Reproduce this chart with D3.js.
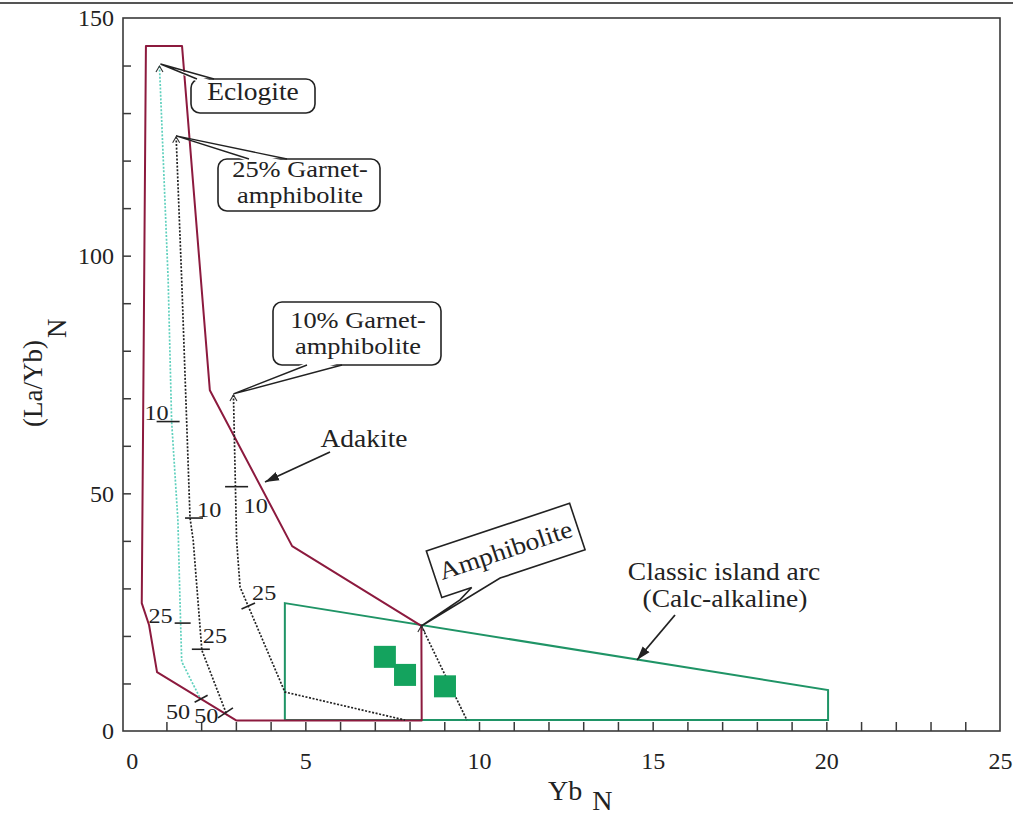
<!DOCTYPE html>
<html>
<head>
<meta charset="utf-8">
<script src="https://cdn.jsdelivr.net/npm/d3@7"></script>
<style>
  html, body { margin: 0; padding: 0; background: #fff; }
  svg { display: block; }
  text { font-family: "Liberation Serif", "Times New Roman", serif; fill: #222; }
</style>
</head>
<body>
<svg id="chart" width="1013" height="817"></svg>
<script>
// ---- Yb_N versus (La/Yb)_N discrimination diagram ----

// Adakite field outline
const adakiteYb   = [0.41, 1.45, 2.25, 4.62, 8.34, 8.35, 3.02, 0.73, 0.50, 0.29];
const adakiteLaYb = [144.1, 144.1, 71.7, 38.9, 22.1, 2.2, 2.2, 12.4, 22.3, 26.9];

// Classic island arc (calc-alkaline) field outline
const arcYb   = [4.41, 20.05, 20.05, 4.41];
const arcLaYb = [26.9, 8.6, 2.3, 2.3];

// Partial-melting trends, listed from the residue end downwards
const eclogiteYb   = [0.80, 1.05, 1.15, 1.33, 1.39, 1.44, 1.97];
const eclogiteLaYb = [139.9, 94.9, 65.1, 44.4, 27.6, 14.6, 6.9];

const garnet25Yb   = [1.28, 1.44, 1.68, 1.77, 2.02, 2.74];
const garnet25LaYb = [125.0, 94.9, 44.8, 40.2, 17.0, 3.4];

const garnet10Yb   = [2.93, 3.02, 3.12, 4.41, 7.87];
const garnet10LaYb = [70.7, 40.2, 30.3, 8.2, 2.3];

const amphiboliteYb   = [8.34, 9.65];
const amphiboliteLaYb = [22.1, 2.3];

// Melt-fraction marks (%) along each trend
const eclogiteMarks = [["10", 1.15, 65.1], ["25", 1.41, 22.7], ["50", 2.00, 6.8]];
const garnet25Marks = [["10", 1.68, 44.8], ["25", 2.02, 17.2], ["50", 2.70, 3.8]];
const garnet10Marks = [["10", 3.02, 51.4], ["25", 3.35, 26.3]];

// Samples
const samplesYb   = [7.29, 7.87, 9.02];
const samplesLaYb = [15.6, 11.8, 9.4];

// Axes
const xTickValues = d3.range(0, 26, 1);
const xTickLabels = [0, 5, 10, 15, 20, 25];
const yTickValues = d3.range(0, 151, 10);
const yTickLabels = [0, 50, 100, 150];

// ---------------------------------------------------------------
const zip = (a, b) => a.map((v, i) => [v, b[i]]);

const svg = d3.select("#chart");
const x = d3.scaleLinear().domain([-0.25, 25]).range([123, 1000]);
const y = d3.scaleLinear().domain([0, 150]).range([731, 18]);

const MAROON = "#8c1a3e";
const TEAL   = "#5fd0bd";
const GREEN  = "#1f9466";
const SQUARE = "#14a35e";
const INK    = "#222";

// page rule across the top
svg.append("line")
  .attr("x1", 0).attr("x2", 1013).attr("y1", 3).attr("y2", 3)
  .attr("stroke", "#555").attr("stroke-width", 2);

// arrowhead marker
const defs = svg.append("defs");
defs.append("marker")
  .attr("id", "head")
  .attr("markerUnits", "userSpaceOnUse")
  .attr("viewBox", "0 -5 14 10")
  .attr("refX", 14).attr("refY", 0)
  .attr("markerWidth", 14).attr("markerHeight", 10)
  .attr("orient", "auto")
  .append("path").attr("d", "M0,-4.5L14,0L0,4.5Z").attr("fill", INK);

// frame
svg.append("rect")
  .attr("x", x(-0.25)).attr("y", y(150))
  .attr("width", x(25) - x(-0.25)).attr("height", y(0) - y(150))
  .attr("fill", "none").attr("stroke", "#3a3a3a").attr("stroke-width", 1.6);

// x axis (ticks point inwards)
const gx = svg.append("g")
  .attr("transform", `translate(0,${y(0)})`)
  .call(d3.axisBottom(x).tickValues(xTickValues).tickSize(-9).tickPadding(21)
    .tickFormat(d => xTickLabels.includes(d) ? d : ""));
gx.select(".domain").remove();
gx.selectAll(".tick line").filter(d => d === 0 || d === 25).remove();
gx.selectAll(".tick line").attr("stroke", "#3a3a3a").attr("stroke-width", 1.5);
gx.selectAll(".tick text").attr("font-size", 24).attr("font-family", "Liberation Serif").attr("fill", "#222");

// y axis
const gy = svg.append("g")
  .attr("transform", `translate(${x(-0.25)},0)`)
  .call(d3.axisLeft(y).tickValues(yTickValues).tickSize(-8).tickPadding(9)
    .tickFormat(d => yTickLabels.includes(d) ? d : ""));
gy.select(".domain").remove();
gy.selectAll(".tick line").filter(d => d === 0 || d === 150).remove();
gy.selectAll(".tick line").attr("stroke", "#3a3a3a").attr("stroke-width", 1.5);
gy.selectAll(".tick text").attr("font-size", 24).attr("font-family", "Liberation Serif").attr("fill", "#222");

// axis titles
svg.append("text")
  .attr("x", 548).attr("y", 800).attr("font-size", 28)
  .text("Yb")
  .append("tspan").attr("dx", 10).attr("dy", 10).text("N");

svg.append("text")
  .attr("transform", "translate(42,427) rotate(-90)")
  .attr("font-size", 27)
  .text("(La/Yb)")
  .append("tspan").attr("dx", 2).attr("dy", 24).text("N");

const line = d3.line().x(d => x(d[0])).y(d => y(d[1]));

// fields
svg.append("path")
  .attr("d", line(zip(arcYb, arcLaYb)) + "Z")
  .attr("fill", "none").attr("stroke", GREEN).attr("stroke-width", 2);

svg.append("path")
  .attr("d", line(zip(adakiteYb, adakiteLaYb)) + "Z")
  .attr("fill", "none").attr("stroke", MAROON).attr("stroke-width", 2)
  .attr("stroke-linejoin", "round");

// melting trends
const trend = (xs, ys, colour) => svg.append("path")
  .attr("d", line(zip(xs, ys)))
  .attr("fill", "none").attr("stroke", colour).attr("stroke-width", 1.7)
  .attr("stroke-dasharray", "2,1.6");

trend(eclogiteYb, eclogiteLaYb, TEAL);
trend(garnet25Yb, garnet25LaYb, INK);
trend(garnet10Yb, garnet10LaYb, INK);
trend(amphiboliteYb, amphiboliteLaYb, INK);

// small open arrowheads at the top of each trend
[[eclogiteYb, eclogiteLaYb], [garnet25Yb, garnet25LaYb], [garnet10Yb, garnet10LaYb], [amphiboliteYb, amphiboliteLaYb]]
  .forEach(([xs, ys]) => {
    svg.append("path")
      .attr("transform", `translate(${x(xs[0])},${y(ys[0])})`)
      .attr("d", "M-3.5,6L0,0L3.5,6")
      .attr("fill", "none").attr("stroke", "#333").attr("stroke-width", 1.1);
  });

// melt-fraction marks: [tick from, tick to, label offset, anchor]
const markStyle = {
  eclogite: [
    [[-15, 0], [8, 0], [-3, -2], "end"],
    [[-6, 0], [10, 0], [-8, 0], "end"],
    [[-6.5, 3.5], [6.5, -3.5], [-11, 20], "end"]
  ],
  garnet25: [
    [[-5, 0], [13, 0], [7, -1], "start"],
    [[-10, 0], [8, 0], [1, -6], "start"],
    [[-7.5, 5], [7.5, -5], [-7, 10], "end"]
  ],
  garnet10: [
    [[-11.5, 0], [11.5, 0], [7, 26], "start"],
    [[-6.5, 3], [7, -3], [4, -6], "start"]
  ]
};
const drawMarks = (marks, styles) => marks.forEach((m, i) => {
  const [lbl, mx, my] = m;
  const [a, b, off, anchor] = styles[i];
  const px = x(mx), py = y(my);
  svg.append("line")
    .attr("x1", px + a[0]).attr("y1", py + a[1])
    .attr("x2", px + b[0]).attr("y2", py + b[1])
    .attr("stroke", INK).attr("stroke-width", 1.6);
  svg.append("text")
    .attr("transform", `translate(${px + off[0]},${py + off[1]}) scale(1.1,1)`)
    .attr("text-anchor", anchor).attr("font-size", 22)
    .text(lbl);
});
drawMarks(eclogiteMarks, markStyle.eclogite);
drawMarks(garnet25Marks, markStyle.garnet25);
drawMarks(garnet10Marks, markStyle.garnet10);

// samples
const sq = 22;
svg.selectAll("rect.sample")
  .data(zip(samplesYb, samplesLaYb))
  .join("rect")
  .attr("class", "sample")
  .attr("x", d => x(d[0]) - sq / 2).attr("y", d => y(d[1]) - sq / 2)
  .attr("width", sq).attr("height", sq)
  .attr("fill", SQUARE);

// ---- annotations ----
const say = (str, cx, cy, size = 25, anchor = "middle", parent = svg) =>
  parent.append("text")
    .attr("transform", `translate(${cx},${cy}) scale(1.1,1)`)
    .attr("text-anchor", anchor).attr("font-size", size)
    .text(str);

// rounded callout box with a wedge tail pointing at (ax, ay)
function callout(bx, by, bw, bh, base1, base2, ax, ay, inward) {
  const g = svg.append("g");
  g.append("rect")
    .attr("x", bx).attr("y", by).attr("width", bw).attr("height", bh)
    .attr("rx", 9).attr("fill", "#fff").attr("stroke", INK).attr("stroke-width", 1.6);
  g.append("path")
    .attr("d", `M${base1[0]},${base1[1] + inward}L${ax},${ay}L${base2[0]},${base2[1] + inward}Z`)
    .attr("fill", "#fff");
  g.append("path")
    .attr("d", `M${base1[0]},${base1[1]}L${ax},${ay}L${base2[0]},${base2[1]}`)
    .attr("fill", "none").attr("stroke", INK).attr("stroke-width", 1.4);
  return g;
}

callout(191, 79, 124, 34, [197, 79], [214, 79], x(eclogiteYb[0]) + 1, y(eclogiteLaYb[0]) - 2, 2.5);
say("Eclogite", 253, 100);

callout(218, 159, 162, 52, [249, 159], [287, 159], x(garnet25Yb[0]), y(garnet25LaYb[0]) - 1, 2.5);
say("25% Garnet-", 300, 177, 24);
say("amphibolite", 300, 203, 24);

callout(273, 302, 168, 63, [307, 365], [342, 365], x(garnet10Yb[0]), y(garnet10LaYb[0]) - 1, -2.5);
say("10% Garnet-", 358, 328, 24);
say("amphibolite", 358, 354, 24);

// rotated rectangular callout for the amphibolite trend
(function () {
  const cx = 505.7, cy = 550.4, ang = -18.4, w = 151, h = 49;
  const t = ang * Math.PI / 180;
  const dx = x(amphiboliteYb[0]) - cx, dy = y(amphiboliteLaYb[0]) - cy;
  // apex expressed in the box's own (unrotated) frame
  const ax = dx * Math.cos(-t) - dy * Math.sin(-t);
  const ay = dx * Math.sin(-t) + dy * Math.cos(-t);
  const hw = w / 2, hh = h / 2;
  const pts = [[-hw, -hh], [hw, -hh], [hw, hh], [-14, hh], [ax, ay], [-59, hh + 8], [-44, hh], [-hw, hh]];
  const g = svg.append("g").attr("transform", `translate(${cx},${cy}) rotate(${ang})`);
  g.append("path")
    .attr("d", "M" + pts.map(p => p.join(",")).join("L") + "Z")
    .attr("fill", "#fff").attr("stroke", INK).attr("stroke-width", 1.6)
    .attr("stroke-linejoin", "miter");
  say("Amphibolite", 0, 8, 25, "middle", g);
})();

// Adakite label and arrow
say("Adakite", 364, 447);
svg.append("line")
  .attr("x1", 330).attr("y1", 452).attr("x2", 265).attr("y2", 482)
  .attr("stroke", INK).attr("stroke-width", 1.8).attr("marker-end", "url(#head)");

// Classic island arc label and arrow
say("Classic island arc", 724, 580);
say("(Calc-alkaline)", 725, 607);
svg.append("line")
  .attr("x1", 675).attr("y1", 615).attr("x2", 637).attr("y2", 660)
  .attr("stroke", INK).attr("stroke-width", 1.8).attr("marker-end", "url(#head)");
</script>
</body>
</html>
